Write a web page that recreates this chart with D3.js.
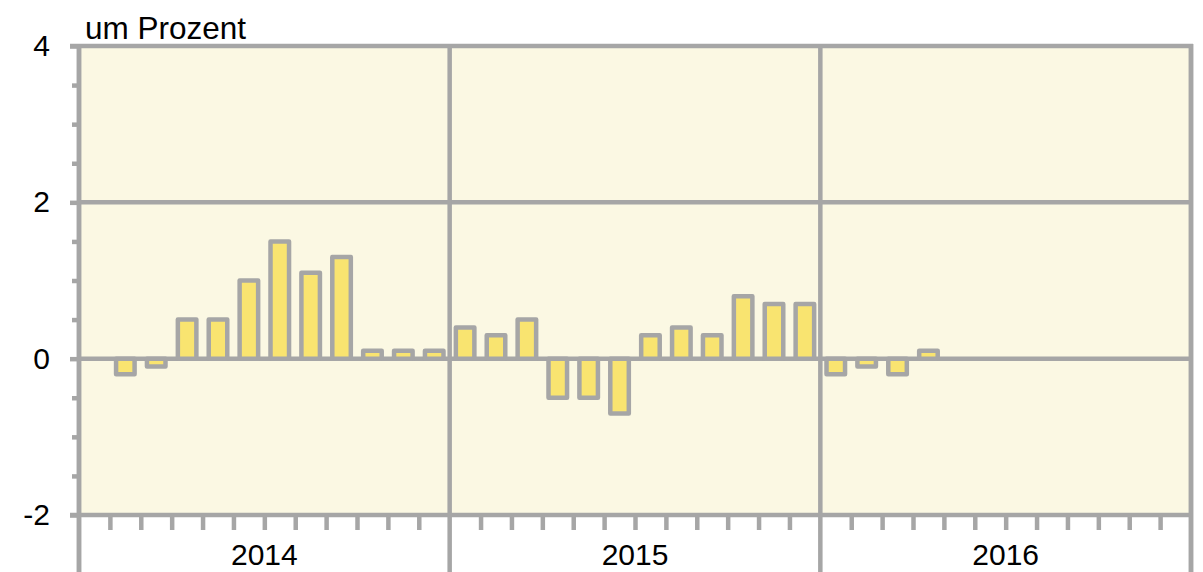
<!DOCTYPE html>
<html><head><meta charset="utf-8">
<script src="https://cdn.jsdelivr.net/npm/d3@7"></script>
<style>
html,body{margin:0;padding:0;background:#fff;}
svg{display:block;font-family:"Liberation Sans",Arial,sans-serif;}
</style></head>
<body>
<svg id="c" width="1203" height="572"></svg>
<script>
const years = ["2014","2015","2016"];
const monthsPerYear = 12;
// monthly values, null = no bar (Jan 2014 and Mai–Dez 2016)
const values2014 = [null, -0.2, -0.1, 0.5, 0.5, 1.0, 1.5, 1.1, 1.3, 0.1, 0.1, 0.1];
const values2015 = [0.4, 0.3, 0.5, -0.5, -0.5, -0.7, 0.3, 0.4, 0.3, 0.8, 0.7, 0.7];
const values2016 = [-0.2, -0.1, -0.2, 0.1, null, null, null, null, null, null, null, null];
const yMajorTicks = [-2, 0, 2, 4];
const yMinorTicks = [-1.5, -1, -0.5, 0.5, 1, 1.5, 2.5, 3, 3.5];
const yGrid = [0, 2];
const unitLabel = "um Prozent";

const allValues = values2014.concat(values2015, values2016);
const months = allValues.map((v, i) => ({i, year: years[Math.floor(i / monthsPerYear)], v}));

const L = 79, R = 1191, T = 46, B = 515;
const gray = "#a6a6a6";
const sw = 4.5;
const svg = d3.select("#c");

const x = d3.scaleBand().domain(months.map(d => d.i)).range([L, R]).paddingInner(0).paddingOuter(0);
const xl = d3.scaleLinear().domain([0, months.length]).range([L, R]);
const xy = d3.scaleBand().domain(years).range([L, R]);
const y = d3.scaleLinear().domain([-2, 4]).range([B, T]);

// plot background
svg.append("rect").attr("x", L).attr("y", T).attr("width", R - L).attr("height", B - T).attr("fill", "#fbf8e3");

// horizontal grid
svg.append("g").selectAll("line").data(yGrid).join("line")
  .attr("x1", L).attr("x2", R).attr("y1", d => y(d)).attr("y2", d => y(d))
  .attr("stroke", gray).attr("stroke-width", sw);

// year separators (vertical, full height)
const yearBounds = d3.range(0, months.length + 1, monthsPerYear);
svg.append("g").selectAll("line").data(yearBounds).join("line")
  .attr("x1", d => xl(d)).attr("x2", d => xl(d)).attr("y1", T - 2).attr("y2", 572)
  .attr("stroke", gray).attr("stroke-width", sw);

// bars
const bw = x.bandwidth() * 0.6;
svg.append("g").selectAll("rect").data(months.filter(d => d.v !== null)).join("rect")
  .attr("x", d => x(d.i) + (x.bandwidth() - bw) / 2)
  .attr("width", bw)
  .attr("y", d => y(Math.max(0, d.v)))
  .attr("height", d => Math.abs(y(d.v) - y(0)))
  .attr("fill", "#f9e470").attr("stroke", gray).attr("stroke-width", sw)
  .attr("stroke-linejoin", "round");

// top and bottom borders
svg.append("line").attr("x1", L - 9).attr("x2", R + 2).attr("y1", T).attr("y2", T).attr("stroke", gray).attr("stroke-width", sw);
svg.append("line").attr("x1", L - 9).attr("x2", R + 2).attr("y1", B).attr("y2", B).attr("stroke", gray).attr("stroke-width", sw);

// y axis minor ticks
const yMinor = svg.append("g").attr("transform", `translate(${L},0)`)
  .call(d3.axisLeft(y).tickValues(yMinorTicks).tickSize(7).tickFormat(""));
// y axis major ticks with labels
const yMajor = svg.append("g").attr("transform", `translate(${L},0)`)
  .call(d3.axisLeft(y).tickValues(yMajorTicks).tickSize(9).tickPadding(20).tickFormat(d => String(d)));
[yMinor, yMajor].forEach(g => {
  g.select(".domain").remove();
  g.selectAll(".tick line").attr("stroke", gray).attr("stroke-width", sw);
});
yMajor.selectAll(".tick text").attr("font-size", 30).attr("fill", "#000").attr("font-family", "Liberation Sans, Arial, sans-serif");
svg.append("line").attr("x1", L).attr("x2", L).attr("y1", T - 2).attr("y2", 572).attr("stroke", gray).attr("stroke-width", sw);
svg.append("line").attr("x1", R).attr("x2", R).attr("y1", T - 2).attr("y2", 572).attr("stroke", gray).attr("stroke-width", sw);

// x month ticks
const monthTicks = d3.range(1, months.length).filter(d => d % monthsPerYear !== 0);
const xAx = svg.append("g").attr("transform", `translate(0,${B})`)
  .call(d3.axisBottom(xl).tickValues(monthTicks).tickSize(15).tickFormat(""));
xAx.select(".domain").remove();
xAx.selectAll(".tick line").attr("stroke", gray).attr("stroke-width", sw);

// year labels
const yrAx = svg.append("g").attr("transform", `translate(0,${B})`)
  .call(d3.axisBottom(xy).tickSize(0));
yrAx.select(".domain").remove();
yrAx.selectAll(".tick text").attr("y", 50).attr("dy", 0).attr("font-size", 30).attr("fill", "#000")
  .attr("font-family", "Liberation Sans, Arial, sans-serif");

// unit label
svg.append("text").attr("x", 85).attr("y", 39).attr("font-size", 31.5).attr("fill", "#000").text(unitLabel);
</script>
</body></html>
